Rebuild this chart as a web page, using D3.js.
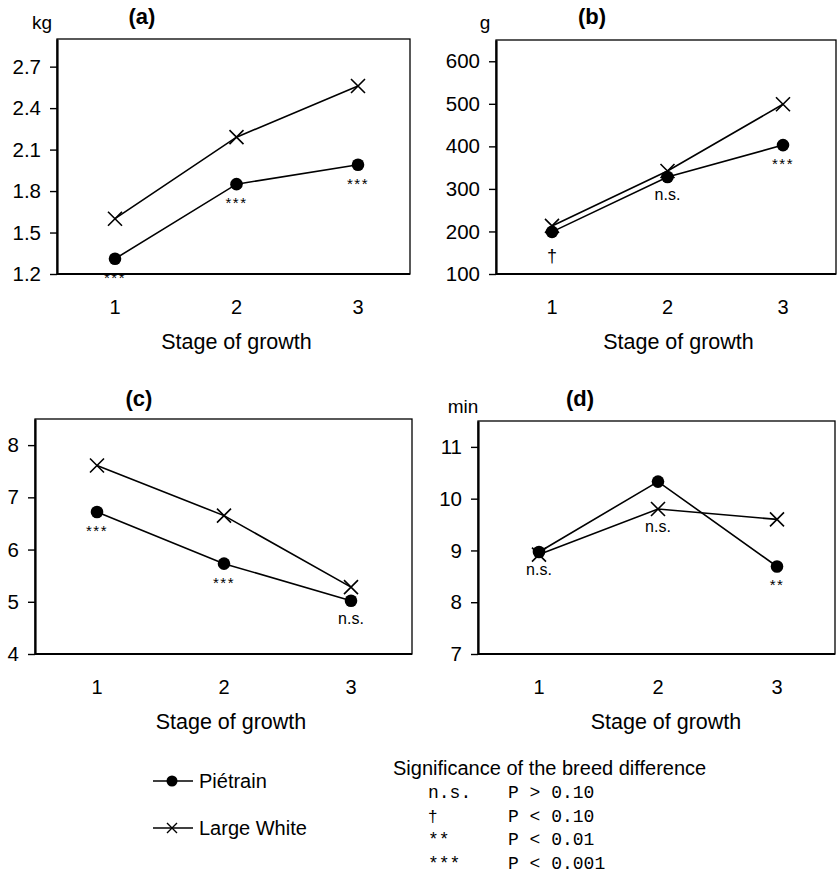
<!DOCTYPE html>
<html><head><meta charset="utf-8">
<script src="https://cdn.jsdelivr.net/npm/d3@7"></script>
<style>body{margin:0;background:#fff} svg{display:block}</style>
</head><body>
<svg id="c" width="838" height="882"></svg>
<script>
// ---------- data ----------
const stages = [1, 2, 3];
const seriesNames = ["Piétrain", "Large White"];

const pietrainA = [1.31, 1.85, 1.99];
const largeWhiteA = [1.60, 2.19, 2.56];
const sigA = ["***", "***", "***"];
const ticksA = [1.2, 1.5, 1.8, 2.1, 2.4, 2.7];

const pietrainB = [199, 328, 403];
const largeWhiteB = [213, 342, 499];
const sigB = ["†", "n.s.", "***"];
const ticksB = [100, 200, 300, 400, 500, 600];

const pietrainC = [6.72, 5.73, 5.02];
const largeWhiteC = [7.61, 6.65, 5.28];
const sigC = ["***", "***", "n.s."];
const ticksC = [4, 5, 6, 7, 8];

const pietrainD = [8.97, 10.33, 8.69];
const largeWhiteD = [8.92, 9.80, 9.60];
const sigD = ["n.s.", "n.s.", "**"];
const ticksD = [7, 8, 9, 10, 11];

const sigCodes = ["n.s.", "†", "**", "***"];
const sigMeaning = ["P > 0.10", "P < 0.10", "P < 0.01", "P < 0.001"];

// ---------- layout ----------
const SANS = "'Liberation Sans', Arial, sans-serif";
const MONO = "'Liberation Mono', 'Courier New', monospace";
const svg = d3.select("#c");

const panels = [
  {label: "(a)", unit: "kg", p: pietrainA, lw: largeWhiteA, sig: sigA, ticks: ticksA, fmt: d3.format(".1f"),
   domain: [1.2, 2.9], x0: 57, x1: 410, y0: 39, y1: 274, c1: 115, c3: 358, titleDx: 0,
   labelPos: [142, 24], unitPos: [42, 29]},
  {label: "(b)", unit: "g", p: pietrainB, lw: largeWhiteB, sig: sigB, ticks: ticksB, fmt: d3.format("d"),
   domain: [100, 650], x0: 496, x1: 836, y0: 40, y1: 274, c1: 552, c3: 783, titleDx: 11,
   labelPos: [592, 24], unitPos: [485, 29]},
  {label: "(c)", unit: "", p: pietrainC, lw: largeWhiteC, sig: sigC, ticks: ticksC, fmt: d3.format("d"),
   domain: [4, 8.5], x0: 35, x1: 412, y0: 419, y1: 654, c1: 97, c3: 351, titleDx: 7,
   labelPos: [139, 406], unitPos: [0, 0]},
  {label: "(d)", unit: "min", p: pietrainD, lw: largeWhiteD, sig: sigD, ticks: ticksD, fmt: d3.format("d"),
   domain: [7, 11.5], x0: 478, x1: 835, y0: 421, y1: 654, c1: 539, c3: 777, titleDx: 8,
   labelPos: [580, 406], unitPos: [463, 413]}
];

panels.forEach(P => {
  const g = svg.append("g");
  const x = d3.scaleLinear().domain([1, 3]).range([P.c1, P.c3]);
  const y = d3.scaleLinear().domain(P.domain).range([P.y1, P.y0]);

  // frame
  g.append("rect").attr("x", P.x0).attr("y", P.y0)
    .attr("width", P.x1 - P.x0).attr("height", P.y1 - P.y0)
    .attr("fill", "none").attr("stroke", "#000").attr("stroke-width", 1.3);
  g.append("line").attr("x1", P.x0).attr("x2", P.x1).attr("y1", P.y1).attr("y2", P.y1)
    .attr("stroke", "#000").attr("stroke-width", 2.2);

  // y axis
  const ya = g.append("g").attr("transform", `translate(${P.x0},0)`)
    .call(d3.axisLeft(y).tickValues(P.ticks).tickFormat(P.fmt).tickSize(7).tickSizeOuter(0).tickPadding(9));
  ya.select(".domain").attr("stroke-width", 2.2);
  ya.selectAll(".tick line").attr("stroke-width", 1.4);
  ya.selectAll("text").attr("font-family", SANS).attr("font-size", 20.5).attr("fill", "#000");

  // x tick labels
  g.selectAll(".xl").data(stages).enter().append("text")
    .attr("x", d => x(d)).attr("y", P.y1 + 40).attr("text-anchor", "middle")
    .attr("font-family", SANS).attr("font-size", 20).text(d => d);
  g.append("text").attr("x", x(2) + P.titleDx).attr("y", P.y1 + 75).attr("text-anchor", "middle")
    .attr("font-family", SANS).attr("font-size", 21.5).text("Stage of growth");

  // panel label and unit
  g.append("text").attr("x", P.labelPos[0]).attr("y", P.labelPos[1]).attr("text-anchor", "middle")
    .attr("font-family", SANS).attr("font-weight", "bold").attr("font-size", 22).text(P.label);
  if (P.unit) g.append("text").attr("x", P.unitPos[0]).attr("y", P.unitPos[1]).attr("text-anchor", "middle")
    .attr("font-family", SANS).attr("font-size", 19).text(P.unit);

  const line = d3.line().x((d, i) => x(stages[i])).y(d => y(d));
  // Large White
  g.append("path").datum(P.lw).attr("d", line).attr("fill", "none").attr("stroke", "#000").attr("stroke-width", 1.6);
  g.selectAll(".lw").data(P.lw).enter().append("path")
    .attr("transform", (d, i) => `translate(${x(stages[i])},${y(d)})`)
    .attr("d", "M-7,-7L7,7M-7,7L7,-7").attr("stroke", "#000").attr("stroke-width", 1.6);
  // Piétrain
  g.append("path").datum(P.p).attr("d", line).attr("fill", "none").attr("stroke", "#000").attr("stroke-width", 1.6);
  g.selectAll(".pt").data(P.p).enter().append("circle")
    .attr("cx", (d, i) => x(stages[i])).attr("cy", d => y(d)).attr("r", 6.3).attr("fill", "#000");

  // significance labels (below the Piétrain point; below the lower mark where the two overlap)
  g.selectAll(".sig").data(P.sig).enter().append("text")
    .attr("x", (d, i) => x(stages[i]))
    .attr("y", (d, i) => {
      const ref = (P.label === "(d)" && i === 1) ? y(P.lw[i]) : y(P.p[i]);
      if (d === "n.s.") return ref + 23;
      if (d === "†") return ref + 30;
      return ref + 24;
    })
    .attr("text-anchor", "middle").attr("font-family", SANS)
    .attr("font-size", d => d === "n.s." ? 16 : (d === "†" ? 18 : 15))
    .attr("letter-spacing", d => d.startsWith("*") ? 1.5 : 0)
    .text(d => d);
});

// ---------- legend ----------
const leg = svg.append("g");
const legY = [781, 828];
leg.selectAll(".ll").data(seriesNames).enter().append("line")
  .attr("x1", 153).attr("x2", 193).attr("y1", (d, i) => legY[i]).attr("y2", (d, i) => legY[i])
  .attr("stroke", "#000").attr("stroke-width", 1.6);
leg.append("circle").attr("cx", 172).attr("cy", legY[0]).attr("r", 5.5).attr("fill", "#000");
leg.append("path").attr("transform", `translate(172,${legY[1]})`)
  .attr("d", "M-5,-5L5,5M-5,5L5,-5").attr("stroke", "#000").attr("stroke-width", 1.4);
leg.selectAll(".lt").data(seriesNames).enter().append("text")
  .attr("x", 199).attr("y", (d, i) => legY[i] + 7)
  .attr("font-family", SANS).attr("font-size", 20).text(d => d);

leg.append("text").attr("x", 393).attr("y", 775).attr("font-family", SANS).attr("font-size", 20)
  .text("Significance of the breed difference");
const rowY = [798, 822, 845, 869];
leg.selectAll(".sc").data(sigCodes).enter().append("text")
  .attr("x", 428).attr("y", (d, i) => rowY[i])
  .attr("font-family", d => d === "†" ? SANS : MONO).attr("font-size", d => d === "†" ? 17 : 18)
  .text(d => d);
leg.selectAll(".sm").data(sigMeaning).enter().append("text")
  .attr("x", 508).attr("y", (d, i) => rowY[i])
  .attr("font-family", MONO).attr("font-size", 18)
  .style("white-space", "pre").text(d => d);
</script>
</body></html>
